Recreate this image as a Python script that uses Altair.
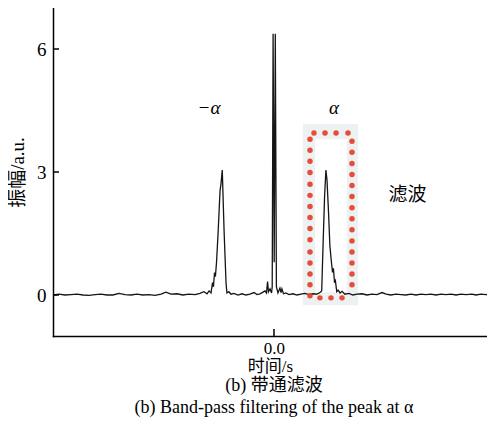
import altair as alt
import pandas as pd

# signal (time in s, amplitude in a.u.)
t_vals = [-1.000, -0.973, -0.946, -0.919, -0.891, -0.864, -0.837, -0.810, -0.783, -0.756,
          -0.729, -0.701, -0.674, -0.647, -0.620, -0.593, -0.566, -0.538, -0.511, -0.489,
          -0.466, -0.439, -0.412, -0.385, -0.357, -0.335, -0.317, -0.303, -0.294, -0.285,
          -0.278, -0.274, -0.269, -0.265, -0.260, -0.253, -0.244, -0.240, -0.234, -0.226,
          -0.217, -0.213, -0.204, -0.195, -0.181, -0.163, -0.145, -0.127, -0.109, -0.090,
          -0.077, -0.063, -0.050, -0.041, -0.034, -0.029, -0.025, -0.018, -0.011, -0.008,
          -0.004, 0.001, 0.006, 0.011, 0.018, 0.027, 0.032, 0.036, 0.043, 0.054, 0.068,
          0.086, 0.104, 0.122, 0.140, 0.158, 0.176, 0.195, 0.208, 0.216, 0.222,
          0.229, 0.235, 0.240, 0.247, 0.253, 0.260, 0.265, 0.269, 0.274, 0.278,
          0.284, 0.290, 0.299, 0.308, 0.321, 0.339, 0.357, 0.376, 0.398, 0.421,
          0.443, 0.466, 0.489, 0.507, 0.529, 0.552, 0.575, 0.597, 0.620, 0.643,
          0.665, 0.688, 0.710, 0.733, 0.756, 0.778, 0.801, 0.824, 0.846, 0.869,
          0.896, 0.914, 0.937, 0.959, 0.982, 1.000]
amp_vals = [0.00, 0.02, 0.00, 0.01, 0.02, 0.00, -0.01, 0.01, 0.02, 0.00,
            0.00, 0.04, 0.01, 0.00, 0.02, 0.00, 0.01, -0.01, 0.02, 0.07,
            0.02, 0.03, 0.00, 0.02, 0.01, 0.04, 0.08, 0.03, 0.10, 0.05,
            0.30, 0.20, 0.55, 0.45, 0.80, 1.50, 2.55, 2.70, 3.05, 1.60,
            0.30, 0.05, 0.08, 0.02, 0.04, 0.00, 0.03, 0.00, 0.02, 0.06,
            0.01, 0.03, 0.07, 0.10, 0.05, 0.33, 0.08, 0.15, 0.05, 0.20,
            6.37, 0.80, 6.37, 0.20, 0.05, 0.17, 0.06, 0.15, 0.03, 0.05, 0.01,
            0.03, 0.00, 0.02, 0.04, 0.01, 0.03, 0.02, 0.06, 0.10, 1.20,
            2.40, 3.05, 2.80, 2.00, 1.20, 0.80, 0.55, 0.65, 0.30, 0.35,
            0.08, 0.12, 0.05, 0.09, 0.02, 0.04, 0.00, 0.02, 0.03, 0.00,
            0.02, 0.01, 0.06, 0.02, 0.00, 0.02, 0.01, 0.00, 0.02, 0.00,
            0.02, 0.01, 0.02, 0.00, 0.02, 0.01, 0.02, 0.00, 0.02, 0.01,
            0.02, 0.00, 0.02, 0.01, 0.02, 0.01]

# red dotted filter window
dot_t = ([0.181, 0.231, 0.281, 0.335] +
         [0.163] * 15 +
         [0.353] * 14 +
         [0.208, 0.258, 0.308])
dot_y = ([3.95, 3.95, 3.95, 3.95] +
         [3.80, 3.53, 3.26, 2.99, 2.70, 2.43, 2.16, 1.89, 1.62, 1.35, 1.05, 0.78, 0.51, 0.25, -0.02] +
         [3.75, 3.48, 3.21, 2.94, 2.67, 2.40, 2.13, 1.86, 1.59, 1.32, 1.05, 0.78, 0.51, 0.25] +
         [-0.07, -0.07, -0.07])

# shaded band behind the window
band_t = [0.131, 0.186]
band_t2 = [0.380, 0.330]
band_y = [-0.25, 0.07]
band_y2 = [4.17, 3.80]
band_fill = ["#eef1f1", "#ffffff"]

# annotations
greek_t = [-0.294, 0.271]
greek_y = [4.55, 4.55]
greek_text = ["−α", "α"]
cn_t = [0.604]
cn_y = [2.43]
cn_text = ["滤波"]

y_ticks = [0, 3, 6]
x_ticks = [0]

SERIF = "Liberation Serif, Noto Sans CJK SC"
FS = 19
FB = 17
FC = 18

sig = pd.DataFrame({"t": t_vals, "a": amp_vals})
dots = pd.DataFrame({"t": dot_t, "a": dot_y})
band = pd.DataFrame({"t": band_t, "t2": band_t2, "a": band_y, "a2": band_y2, "f": band_fill})
greek = pd.DataFrame({"t": greek_t, "a": greek_y, "txt": greek_text})
cn = pd.DataFrame({"t": cn_t, "a": cn_y, "txt": cn_text})
yt = pd.DataFrame({"v": y_ticks})
xt = pd.DataFrame({"v": x_ticks})

xs = alt.Scale(domain=[-1, 0.964], nice=False, zero=False)
ys = alt.Scale(domain=[-1, 7], nice=False, zero=False)

base_x = alt.X("t:Q", scale=xs,
               axis=alt.Axis(values=x_ticks, format=".1f", ticks=False, grid=False,
                             title="时间/s", labelPadding=4, titlePadding=2,
                             domainColor="black", domainWidth=1.5,
                             labelFont=SERIF, labelFontSize=FB, labelColor="black",
                             titleFont=SERIF, titleFontSize=FB, titleFontWeight="normal",
                             titleColor="black"))
base_y = alt.Y("a:Q", scale=ys,
               axis=alt.Axis(values=y_ticks, ticks=False, grid=False,
                             title="振幅/a.u.", labelPadding=7, titlePadding=9,
                             domainColor="black", domainWidth=1.5,
                             labelFont=SERIF, labelFontSize=FS, labelColor="black",
                             titleFont=SERIF, titleFontSize=FS, titleFontWeight="normal",
                             titleColor="black"))

band_layer = alt.Chart(band).mark_rect().encode(
    x=alt.X("t:Q", scale=xs), x2="t2:Q",
    y=alt.Y("a:Q", scale=ys), y2="a2:Q",
    color=alt.Color("f:N", scale=None))

line_layer = alt.Chart(sig).mark_line(color="#151515", strokeWidth=1.3, clip=True).encode(
    x=base_x, y=base_y)

dot_layer = alt.Chart(dots).mark_circle(size=30, color="#e4432d", opacity=0.95).encode(
    x=alt.X("t:Q", scale=xs), y=alt.Y("a:Q", scale=ys))

greek_layer = alt.Chart(greek).mark_text(font=SERIF, fontSize=FS, fontStyle="italic",
                                         color="black").encode(
    x=alt.X("t:Q", scale=xs), y=alt.Y("a:Q", scale=ys), text="txt:N")

cn_layer = alt.Chart(cn).mark_text(font=SERIF, fontSize=FS, color="black").encode(
    x=alt.X("t:Q", scale=xs), y=alt.Y("a:Q", scale=ys), text="txt:N")

ytick_layer = alt.Chart(yt).mark_rule(color="black", strokeWidth=1.5).encode(
    y=alt.Y("v:Q", scale=ys), x=alt.value(0), x2=alt.value(6))

xtick_layer = alt.Chart(xt).mark_rule(color="black", strokeWidth=1.5).encode(
    x=alt.X("v:Q", scale=xs), y=alt.value(328), y2=alt.value(321))

chart = alt.layer(band_layer, line_layer, dot_layer, greek_layer, cn_layer,
                  ytick_layer, xtick_layer).properties(
    width=434, height=328,
    title=alt.TitleParams(
        text=["(b) 带通滤波", "(b) Band-pass filtering of the peak at α"],
        orient="bottom", anchor="middle", dx=4, font=SERIF, fontSize=FC,
        fontWeight="normal", color="black", lineHeight=22, offset=3),
    padding={"left": 45, "top": 0, "right": 0, "bottom": 84},
    autosize=alt.AutoSizeParams(type="none"),
).configure_view(stroke=None).configure_axis(domainCap="square")

chart.save("out.html", embed_options={"renderer": "svg", "actions": False})
